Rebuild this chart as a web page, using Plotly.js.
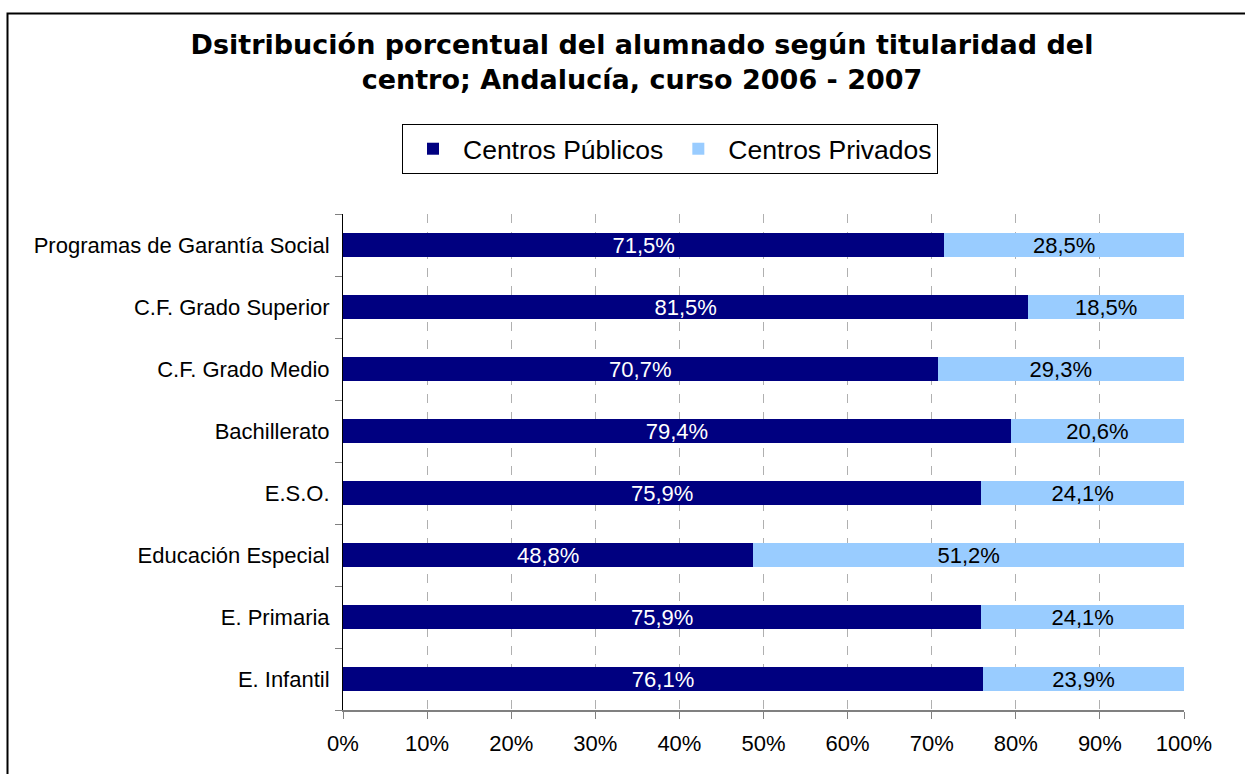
<!DOCTYPE html>
<html>
<head>
<meta charset="utf-8">
<script src="https://cdn.plot.ly/plotly-3.0.1.min.js"></script>
<style>html,body{margin:0;padding:0;background:#fff;}#chart{width:1245px;height:774px;}</style>
</head>
<body>
<div id="chart"></div>
<script>
const categories = ["E. Infantil", "E. Primaria", "Educación Especial", "E.S.O.", "Bachillerato", "C.F. Grado Medio", "C.F. Grado Superior", "Programas de Garantía Social"];
const publicos = [76.1, 75.9, 48.8, 75.9, 79.4, 70.7, 81.5, 71.5];
const privados = [23.9, 24.1, 51.2, 24.1, 20.6, 29.3, 18.5, 28.5];
const seriesNames = ["Centros Públicos", "Centros Privados"];
const xTicks = [0, 10, 20, 30, 40, 50, 60, 70, 80, 90, 100];
const xTickLabels = ["0%", "10%", "20%", "30%", "40%", "50%", "60%", "70%", "80%", "90%", "100%"];

const W = 1245, H = 774;
const L = 343, R = 61, T = 214, B = 64;
const pw = W - L - R, ph = H - T - B;
const px = v => (v - L) / pw;
const py = v => (H - B - v) / ph;

const font = "Liberation Sans, Arial, sans-serif";
const titleFont = "DejaVu Sans, Liberation Sans, sans-serif";

const traces = [
  {
    type: "bar", orientation: "h", name: seriesNames[0],
    y: categories, x: publicos,
    marker: {color: "#000080"},
    text: publicos, texttemplate: "%{x:.1f}%", textposition: "inside",
    insidetextanchor: "middle", constraintext: "none",
    textfont: {color: "#ffffff", size: 22, family: font},
    hoverinfo: "skip"
  },
  {
    type: "bar", orientation: "h", name: seriesNames[1],
    y: categories, x: privados,
    marker: {color: "#99CCFF"},
    text: privados, texttemplate: "%{x:.1f}%", textposition: "inside",
    insidetextanchor: "middle", constraintext: "none",
    textfont: {color: "#000000", size: 22, family: font},
    hoverinfo: "skip"
  }
];

const layout = {
  width: W, height: H,
  margin: {l: L, r: R, t: T, b: B, pad: 0},
  paper_bgcolor: "#ffffff", plot_bgcolor: "#ffffff",
  separators: ",.",
  barmode: "stack", bargap: 0.6,
  font: {family: font, color: "#000000", size: 22},
  title: {
    text: "<b>Dsitribución porcentual del alumnado según titularidad del<br>centro; Andalucía, curso 2006 - 2007</b>",
    font: {size: 27, family: titleFont, color: "#000000"},
    x: 642 / W, xanchor: "center", xref: "container",
    y: 1 - 54 / H, yanchor: "top", yref: "container"
  },
  showlegend: true,
  legend: {
    orientation: "h", x: px(670), xanchor: "center", y: py(124), yanchor: "top",
    bordercolor: "#000000", borderwidth: 1, itemwidth: 50,
    font: {size: 26.5, family: font, color: "#000000"},
    traceorder: "normal", itemclick: false
  },
  xaxis: {
    range: [0, 100], tickmode: "array", tickvals: xTicks, ticktext: xTickLabels,
    showgrid: true, gridcolor: "#b0b0b0", griddash: "dash", gridwidth: 1,
    showline: true, linecolor: "#808080", linewidth: 2,
    ticks: "outside", ticklen: 7, tickcolor: "#808080", tickwidth: 1,
    tickfont: {size: 22, family: font, color: "#000000"},
    ticklabelstandoff: 6,
    zeroline: false, fixedrange: true
  },
  yaxis: {
    type: "category", categoryorder: "array", categoryarray: categories,
    showline: true, linecolor: "#000000", linewidth: 1,
    ticks: "outside", tickson: "boundaries", ticklen: 7, tickcolor: "#808080", tickwidth: 1,
    tickfont: {size: 22, family: font, color: "#000000"},
    ticklabelstandoff: 8,
    showgrid: false, zeroline: false, fixedrange: true
  },
  shapes: [
    {type: "rect", xref: "paper", yref: "paper",
     x0: px(7.5), x1: px(1250), y0: py(13.5), y1: py(780),
     line: {color: "#000000", width: 2}, fillcolor: "rgba(0,0,0,0)", layer: "below"}
  ]
};

Plotly.newPlot("chart", traces, layout, {displayModeBar: false, staticPlot: true});
</script>
</body>
</html>
